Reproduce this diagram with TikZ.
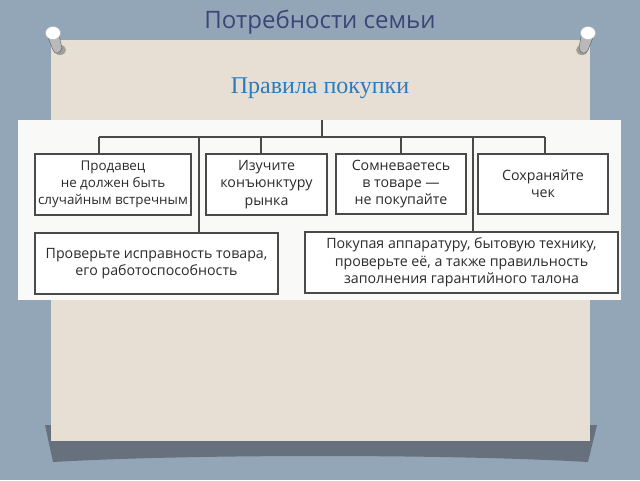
\documentclass[tikz,border=0pt]{standalone}
\usepackage{fontspec}
\setmainfont{Open Sans}
\newfontfamily\serifx{Liberation Serif}
\definecolor{bgblue}{HTML}{93A6B7}
\definecolor{paperc}{HTML}{E7DFD3}
\definecolor{shadowc}{HTML}{66717D}
\definecolor{titlec}{HTML}{3A4677}
\definecolor{subc}{HTML}{2C7BBF}
\definecolor{linec}{HTML}{4A4A4A}
\definecolor{textc}{HTML}{2B2B2B}
\definecolor{imgc}{HTML}{F9F9F7}
\tikzset{
  box/.style={draw=linec, line width=1.1pt, fill=white, align=center,
    font=\fontsize{14.2}{17.3}\selectfont, text=textc, inner xsep=0.5pt, inner ysep=2pt},
  tree/.style={draw=linec, line width=1.1pt},
  pinbody/.style={fill=gray!55, draw=gray!70!black, line width=0.4pt},
  pinhead/.style={fill=white, draw=gray!60, line width=0.4pt}
}
\begin{document}
\begin{tikzpicture}[x=1pt,y=-1pt]
\useasboundingbox (0,0) rectangle (640,480);
\fill[bgblue] (0,0) rectangle (640,480);
% shadow under the paper
\fill[shadowc] (45,425) -- (597,425) -- (588,462) .. controls (450,454) and (190,454) .. (53,462) -- cycle;
% paper
\fill[paperc] (51,40) rectangle (590,441);
% pins
\fill[black!55, opacity=0.6] (60,50) ellipse (6pt and 5pt);
\draw[pinbody] (47,35) -- (58,31) -- (62,48) .. controls (60,54) and (55,55) .. (53,50) -- cycle;
\draw[pinhead] (53,33) ellipse (7.5pt and 6.5pt);
\fill[black!55, opacity=0.6] (582,50) ellipse (6pt and 5pt);
\draw[pinbody] (582,31) -- (594,35) -- (588,50) .. controls (586,55) and (580,54) .. (579,48) -- cycle;
\draw[pinhead] (588,33) ellipse (7.5pt and 6.5pt);
% titles
\node[text=titlec, font=\fontsize{24}{28}\selectfont] (title) at (320,22) {Потребности семьи};
\node[text=subc, font=\serifx\fontsize{24}{28}\selectfont] (sub) at (320,88) {Правила покупки};
% embedded image
\fill[imgc] (18,120) rectangle (621,300);
% boxes
\node[box, minimum width=156pt, minimum height=61pt, font=\fontsize{13.4}{17.3}\selectfont] (b1) at (113,184.5) {Продавец\\не должен быть\\случайным встречным};
\node[box, minimum width=121pt, minimum height=61pt] (b2) at (266.5,184.5) {Изучите\\конъюнктуру\\рынка};
\node[box, minimum width=130pt, minimum height=60pt] (b3) at (401,184) {Сомневаетесь\\в товаре —\\не покупайте};
\node[box, minimum width=130pt, minimum height=60pt] (b4) at (543,184) {Сохраняйте\\чек};
\node[box, minimum width=243pt, minimum height=61pt] (b5) at (156.5,263.5) {Проверьте исправность товара,\\его работоспособность};
\node[box, minimum width=313pt, minimum height=61pt] (b6) at (461.5,262.5) {Покупая аппаратуру, бытовую технику,\\проверьте её, а также правильность\\заполнения гарантийного талона};
% tree
\coordinate (top) at (322,120);
\coordinate (tL) at (99,137);
\coordinate (tR) at (545,137);
\coordinate (j1) at (99,137);
\coordinate (j5) at (199,137);
\coordinate (j2) at (261,137);
\coordinate (jt) at (322,137);
\coordinate (j3) at (401,137);
\coordinate (j6) at (473,137);
\coordinate (j4) at (545,137);
\draw[tree] (tL) -- (tR);
\draw[tree] (top) -- (jt);
\draw[tree] (j1) -- (j1 |- b1.north);
\draw[tree] (j5) -- (j5 |- b5.north);
\draw[tree] (j2) -- (j2 |- b2.north);
\draw[tree] (j3) -- (j3 |- b3.north);
\draw[tree] (j6) -- (j6 |- b6.north);
\draw[tree] (j4) -- (j4 |- b4.north);
\end{tikzpicture}
\end{document}
